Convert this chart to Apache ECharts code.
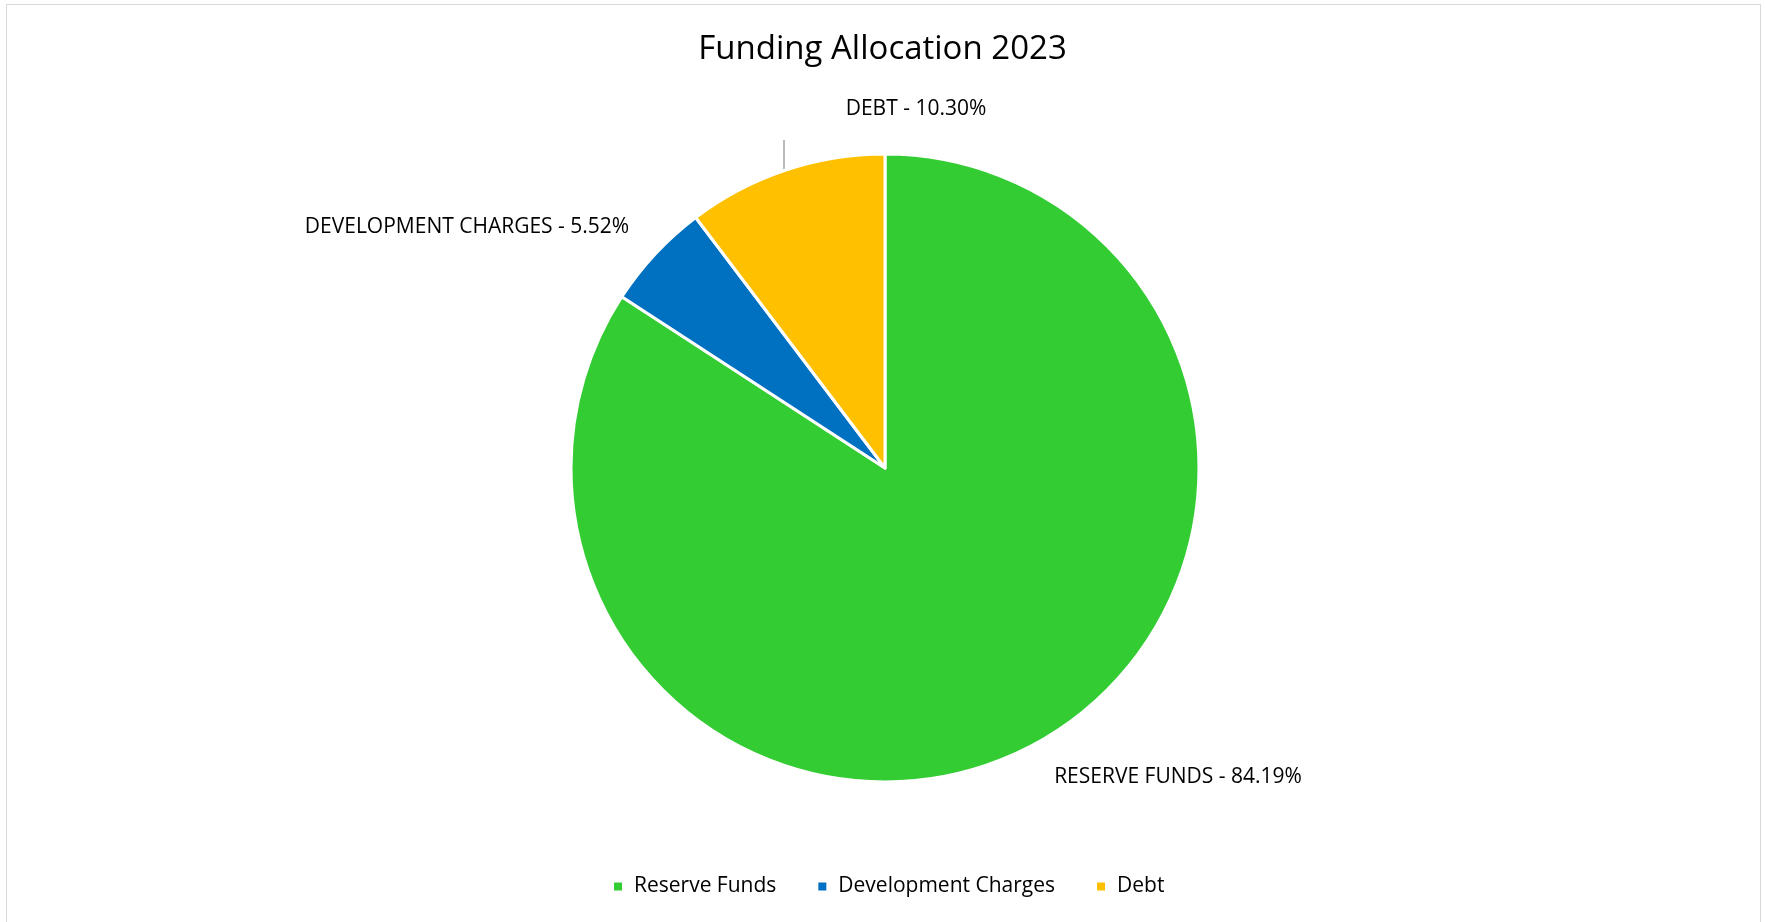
<!DOCTYPE html>
<html>
<head>
<meta charset="utf-8">
<script src="https://cdn.jsdelivr.net/npm/echarts@6/dist/echarts.min.js"></script>
<style>
  html, body { margin: 0; padding: 0; background: #fff; }
  #frame { position: absolute; left: 6px; top: 4px; width: 1755px; height: 930px; border: 1px solid #d9d9d9; box-sizing: border-box; }
  #chart { position: absolute; left: 0; top: 0; width: 1765px; height: 922px; }
</style>
</head>
<body>
<div id="frame"></div>
<div id="chart"></div>
<script>
const title = 'Funding Allocation 2023';
const categories = ['Reserve Funds', 'Development Charges', 'Debt'];
const labelNames = ['RESERVE FUNDS', 'DEVELOPMENT CHARGES', 'DEBT'];
const values = [84.19, 5.52, 10.30];
const colors = ['#33CC33', '#0070C0', '#FFC000'];

const FONT = '"Open Sans", "Noto Sans", sans-serif';
const labelPos = {
  'Reserve Funds': { x: 1178, y: 777 },
  'Development Charges': { x: 467, y: 227 },
  'Debt': { x: 916, y: 109 }
};

const chart = echarts.init(document.getElementById('chart'), null, { renderer: 'canvas' });
chart.setOption({
  animation: false,
  backgroundColor: 'transparent',
  title: {
    text: title,
    left: 'center',
    top: 28,
    textStyle: { fontFamily: FONT, fontSize: 33, fontWeight: 'normal', color: '#000' }
  },
  legend: {
    bottom: 20,
    left: 607,
    icon: 'rect',
    itemWidth: 10,
    itemHeight: 10,
    itemGap: 40,
    textStyle: { fontFamily: FONT, fontSize: 21, color: '#000', padding: [0, 0, 0, 6] },
    data: categories
  },
  series: [{
    type: 'pie',
    center: [885, 468],
    radius: [0, 314],
    startAngle: 90,
    clockwise: true,
    avoidLabelOverlap: false,
    itemStyle: { borderColor: '#fff', borderWidth: 3 },
    label: {
      show: true,
      position: 'outside',
      fontFamily: FONT,
      fontSize: 21,
      color: '#000',
      formatter: p => labelNames[p.dataIndex] + ' - ' + values[p.dataIndex].toFixed(2) + '%'
    },
    labelLine: { show: true, lineStyle: { color: '#a6a6a6', width: 1.5 } },
    labelLayout: function (params) {
      const name = categories[params.dataIndex];
      const pos = labelPos[name];
      const res = { x: pos.x, y: pos.y, align: 'center', verticalAlign: 'middle' };
      if (name === 'Debt') {
        res.labelLinePoints = [[784, 170], [784, 140], [784, 140]];
      } else {
        res.labelLinePoints = [[0, 0], [0, 0], [0, 0]];
      }
      return res;
    },
    emphasis: { disabled: true },
    data: categories.map((c, i) => ({
      name: c,
      value: values[i],
      itemStyle: { color: colors[i] },
      labelLine: { show: c === 'Debt' }
    }))
  }]
});
</script>
</body>
</html>
